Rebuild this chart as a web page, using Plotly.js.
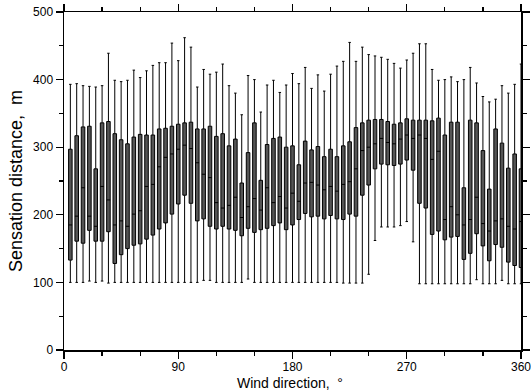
<!DOCTYPE html>
<html>
<head>
<meta charset="utf-8">
<script src="https://cdn.plot.ly/plotly-3.0.1.min.js"></script>
<style>html,body{margin:0;padding:0;background:#fff;}#chart{width:531px;height:390px;}</style>
</head>
<body>
<div id="chart"></div>
<script>
// Wind direction (degrees), one box every 5 degrees
const directions = [5,10,15,20,25,30,35,40,45,50,55,60,65,70,75,80,85,90,95,100,105,110,115,120,125,130,135,140,145,150,155,160,165,170,175,180,185,190,195,200,205,210,215,220,225,230,235,240,245,250,255,260,265,270,275,280,285,290,295,300,305,310,315,320,325,330,335,340,345,350,355,360];
// Upper whisker end (m)
const whiskerHigh = [393,394,391,390,389,391,439,399,397,399,414,403,413,421,425,425,454,428,462,448,389,415,408,411,423,391,380,348,406,400,352,392,399,381,392,409,394,418,387,407,383,408,420,427,455,427,448,437,435,433,430,424,417,429,439,453,453,415,399,400,404,397,400,418,395,375,367,371,391,380,393,423];
// Upper quartile (m)
const q3 = [297,317,330,331,268,336,338,320,311,305,315,319,318,318,327,328,331,334,336,337,327,327,331,316,320,302,312,247,292,336,251,304,313,315,300,302,274,309,296,301,286,297,286,302,308,329,336,340,341,341,338,334,336,342,340,340,340,339,343,318,337,337,240,340,336,295,238,327,306,269,290,268];
// Median (m)
const medians = [185,198,240,198,183,242,222,185,191,183,201,206,242,245,271,285,290,297,303,298,277,260,255,218,210,214,226,196,212,224,207,240,218,227,210,232,220,247,248,244,237,242,235,245,249,268,295,300,305,313,307,305,312,318,313,318,313,282,294,193,212,200,185,193,226,187,176,191,194,183,179,190];
// Lower quartile (m)
const q1 = [133,161,158,177,161,161,175,128,141,150,155,157,164,170,179,188,201,216,229,217,191,194,183,179,183,179,177,169,180,174,178,180,184,188,178,185,193,202,197,198,194,199,194,193,201,198,229,244,268,275,274,273,275,281,266,217,210,171,176,163,167,168,134,143,172,154,132,156,152,130,125,122];
// Lower whisker end (m)
const whiskerLow = [100,100,100,102,100,102,99,100,100,100,100,100,100,100,100,100,100,100,100,100,100,103,103,100,100,100,100,100,105,100,100,100,100,100,100,100,100,100,100,100,100,100,100,99,99,99,99,112,162,182,182,182,184,190,160,98,98,98,98,98,98,98,98,98,104,98,98,98,103,98,98,98];

const xTicks = [0,90,180,270,360];
const yTicks = [0,100,200,300,400,500];

const trace = {
  type: 'box',
  x: directions,
  q1: q1,
  median: medians,
  q3: q3,
  lowerfence: whiskerLow,
  upperfence: whiskerHigh,
  width: 2.8,
  whiskerwidth: 0.7,
  fillcolor: '#555555',
  line: {color: '#000000', width: 1},
  hoverinfo: 'skip',
  showlegend: false
};

const axisFont = {family: 'Liberation Sans, Arial, Helvetica, sans-serif', size: 12, color: '#000'};

const layout = {
  width: 531,
  height: 390,
  margin: {l: 64, r: 10, t: 12, b: 40},
  paper_bgcolor: '#fff',
  plot_bgcolor: '#fff',
  font: axisFont,
  showlegend: false,
  xaxis: {
    range: [0, 360],
    tickmode: 'array',
    tickvals: xTicks,
    ticktext: xTicks.map(String),
    ticks: 'outside',
    ticklen: 7,
    tickwidth: 1.2,
    tickcolor: '#000',
    ticklabeloverflow: 'allow',
    ticklabelstandoff: -2,
    minor: {dtick: 30, tick0: 0, ticks: 'outside', ticklen: 4, tickwidth: 1.2, tickcolor: '#000', showgrid: false},
    showline: true,
    linecolor: '#000',
    linewidth: 1.5,
    mirror: 'allticks',
    showgrid: false,
    zeroline: false,
    tickfont: axisFont
  },
  yaxis: {
    range: [0, 500],
    tickmode: 'array',
    tickvals: yTicks,
    ticktext: yTicks.map(String),
    ticks: 'outside',
    ticklen: 7,
    tickwidth: 1.2,
    tickcolor: '#000',
    minor: {dtick: 50, tick0: 0, ticks: 'outside', ticklen: 4, tickwidth: 1.2, tickcolor: '#000', showgrid: false},
    showline: true,
    linecolor: '#000',
    linewidth: 1.5,
    mirror: 'allticks',
    showgrid: false,
    zeroline: false,
    tickfont: axisFont,
    title: {text: 'Sensation distance,  m', font: {family: 'Liberation Sans, Arial, sans-serif', size: 18, color: '#000'}, standoff: 6}
  },
  annotations: [{
    text: 'Wind direction,  °',
    xref: 'paper', yref: 'paper',
    x: 0.495, y: -0.098,
    xanchor: 'center', yanchor: 'middle',
    showarrow: false,
    font: {family: 'Liberation Sans, Arial, sans-serif', size: 14, color: '#000'}
  }]
};

Plotly.newPlot('chart', [trace], layout, {displayModeBar: false, staticPlot: true});
</script>
</body>
</html>
